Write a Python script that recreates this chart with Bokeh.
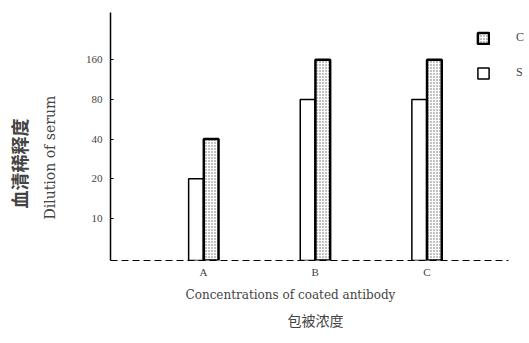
from bokeh.plotting import figure
from bokeh.models import (Range1d, FixedTicker, Title, Legend, LegendItem,
                          NumeralTickFormatter, ColumnDataSource)
from bokeh.transform import dodge
from bokeh.embed import file_html
from bokeh.resources import INLINE

groups = ["A", "B", "C"]
series_s = [20, 80, 80]      # white bars
series_c = [40, 160, 160]    # patterned bars
y_ticks = [10, 20, 40, 80, 160]

W, H = 529, 343
FL, FB = 110, 260  # frame left / bottom on the page
idx = list(range(len(groups)))
p = figure(width=W, height=H, output_backend="svg", toolbar_location=None,
           x_range=Range1d(-0.834, 2.92),
           y_axis_type="log", y_range=Range1d(4.8, 365),
           min_border_left=FL, min_border_right=0, min_border_top=12, min_border_bottom=H - FB)
p.outline_line_color = None
p.grid.visible = False
p.background_fill_color = "white"

src = ColumnDataSource(dict(x=idx, s=series_s, c=series_c, b=[1] * len(idx)))
rs = p.vbar(x=dodge("x", -0.068), top="s", bottom="b", width=0.132, source=src,
            fill_color="white", line_color="black", line_width=1.5)
rc = p.vbar(x=dodge("x", 0.068), top="c", bottom="b", width=0.132, source=src,
            fill_color="white", line_color="black", line_width=2.5,
            hatch_pattern="dot", hatch_color="#666666", hatch_scale=3)

p.yaxis.ticker = FixedTicker(ticks=y_ticks)
p.yaxis.formatter = NumeralTickFormatter(format="0")
p.yaxis.major_tick_out = 0
p.yaxis.major_tick_in = 3
p.yaxis.minor_tick_line_color = None
p.yaxis.major_label_text_font = "Liberation Serif"
p.yaxis.major_label_text_font_size = "11px"
p.yaxis.major_label_standoff = 8
p.yaxis.axis_line_width = 1.5

p.xaxis.ticker = FixedTicker(ticks=idx)
p.xaxis.major_label_overrides = {i: g for i, g in zip(idx, groups)}
p.xaxis.bounds = (-0.834, 2.73)
p.xaxis.major_tick_out = 0
p.xaxis.major_tick_in = 0
p.xaxis.major_tick_line_color = None
p.xaxis.minor_tick_line_color = None
p.xaxis.axis_line_dash = "7 4"
p.xaxis.axis_line_width = 1.2
p.xaxis.major_label_text_font = "Liberation Serif"
p.xaxis.major_label_text_font_size = "11px"
p.xaxis.major_label_standoff = 5

legend = Legend(items=[LegendItem(label="C", renderers=[rc]),
                       LegendItem(label="S", renderers=[rs])],
                location=(366, 180), glyph_width=14, glyph_height=14, spacing=20,
                padding=0, margin=0, label_standoff=26,
                label_text_font="Liberation Serif", label_text_font_size="12px",
                border_line_alpha=0, background_fill_alpha=0)
p.add_layout(legend, "center")

p.add_layout(Title(text="Dilution of serum", align="left", offset=41, standoff=50,
                   text_font="DejaVu Serif", text_font_size="14px", text_font_style="normal"), "left")
p.add_layout(Title(text="血清稀释度", align="left", offset=52, standoff=-35,
                   text_font="Noto Sans CJK SC", text_font_size="18px", text_font_style="bold"), "left")
p.add_layout(Title(text="Concentrations of coated antibody", align="left", offset=75, standoff=10,
                   text_font="DejaVu Serif", text_font_size="12px", text_font_style="normal"), "below")
p.add_layout(Title(text="包被浓度", align="left", offset=177, standoff=3,
                   text_font="Noto Sans CJK SC", text_font_size="14px", text_font_style="normal"), "below")

open("out.html", "w").write(file_html(p, INLINE))
